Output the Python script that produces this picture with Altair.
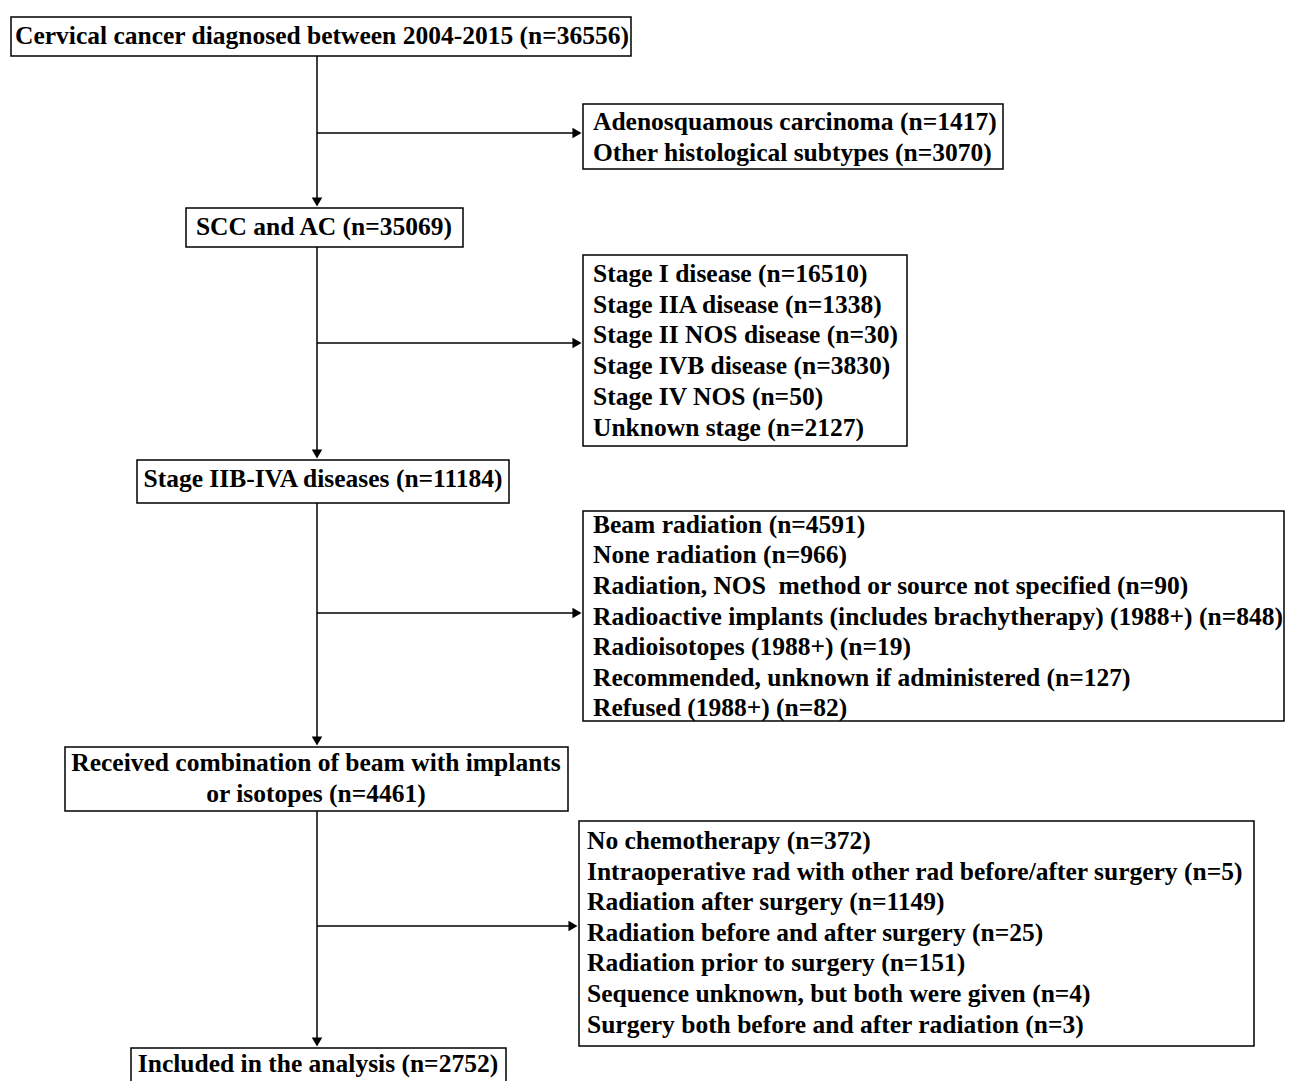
import altair as alt
import pandas as pd

FONT = "Liberation Serif"

# boxes: left, right, top, bottom (pixel positions of the flow diagram)
box_x1 = [11, 583, 186, 583, 137, 583, 65, 579, 131]
box_x2 = [631, 1003, 463, 907, 509, 1284, 568, 1254, 506]
box_y1 = [17, 104, 208, 255, 460, 511, 747, 821, 1048]
box_y2 = [56, 169, 247, 446, 503, 721, 811, 1046, 1095]

# centered labels of the main flow
main_text = [
    "Cervical cancer diagnosed between 2004-2015 (n=36556)",
    "SCC and AC (n=35069)",
    "Stage IIB-IVA diseases (n=11184)",
    "Received combination of beam with implants",
    "or isotopes (n=4461)",
    "Included in the analysis (n=2752)",
]
main_x = [322, 324, 323, 316, 316, 318]
main_y = [36, 227, 479, 763, 794, 1064]

# left-aligned exclusion lists
excl_text = [
    "Adenosquamous carcinoma (n=1417)",
    "Other histological subtypes (n=3070)",
    "Stage I disease (n=16510)",
    "Stage IIA disease (n=1338)",
    "Stage II NOS disease (n=30)",
    "Stage IVB disease (n=3830)",
    "Stage IV NOS (n=50)",
    "Unknown stage (n=2127)",
    "Beam radiation (n=4591)",
    "None radiation (n=966)",
    "Radiation, NOS\u00a0 method or source not specified (n=90)",
    "Radioactive implants (includes brachytherapy) (1988+) (n=848)",
    "Radioisotopes (1988+) (n=19)",
    "Recommended, unknown if administered (n=127)",
    "Refused (1988+) (n=82)",
    "No chemotherapy (n=372)",
    "Intraoperative rad with other rad before/after surgery (n=5)",
    "Radiation after surgery (n=1149)",
    "Radiation before and after surgery (n=25)",
    "Radiation prior to surgery (n=151)",
    "Sequence unknown, but both were given (n=4)",
    "Surgery both before and after radiation (n=3)",
]
excl_x = [593] * 2 + [593] * 6 + [593] * 7 + [587] * 7
excl_y = [122, 153, 274, 305, 335, 366, 397, 428,
          525, 555, 586, 617, 647, 678, 708,
          841, 872, 902, 933, 963, 994, 1025]

# connector lines
line_x1 = [317, 317, 317, 317, 317, 317, 317, 317]
line_x2 = [317, 317, 317, 317, 576, 576, 576, 572]
line_y1 = [56, 247, 503, 811, 133, 343, 613, 926]
line_y2 = [201, 453, 740, 1041, 133, 343, 613, 926]

# arrow heads
arrow_x = [317, 317, 317, 317, 577, 577, 577, 573]
arrow_y = [202, 454, 741, 1042, 133, 343, 613, 926]
arrow_shape = ["triangle-down"] * 4 + ["triangle-right"] * 4

xs = alt.Scale(domain=[8, 1285], nice=False, zero=False)
ys = alt.Scale(domain=[8, 1081], nice=False, zero=False, reverse=True)

boxes = pd.DataFrame(dict(x=box_x1, x2=box_x2, y=box_y1, y2=box_y2))
mains = pd.DataFrame(dict(x=main_x, y=main_y, t=main_text))
excls = pd.DataFrame(dict(x=excl_x, y=excl_y, t=excl_text))
lines = pd.DataFrame(dict(x=line_x1, x2=line_x2, y=line_y1, y2=line_y2))
arrows = pd.DataFrame(dict(x=arrow_x, y=arrow_y, s=arrow_shape))

rects = alt.Chart(boxes).mark_rect(fill="white", stroke="black", strokeWidth=1.5, clip=True).encode(
    x=alt.X("x:Q", scale=xs, axis=None), x2="x2", y=alt.Y("y:Q", scale=ys, axis=None), y2="y2")
rules = alt.Chart(lines).mark_rule(color="black", strokeWidth=1.5).encode(
    x=alt.X("x:Q", scale=xs, axis=None), x2="x2", y=alt.Y("y:Q", scale=ys, axis=None), y2="y2")
heads = alt.Chart(arrows).mark_point(filled=True, color="black", size=110, opacity=1).encode(
    x=alt.X("x:Q", scale=xs, axis=None), y=alt.Y("y:Q", scale=ys, axis=None),
    shape=alt.Shape("s:N", scale=None))
mtext = alt.Chart(mains).mark_text(font=FONT, fontWeight="bold", fontSize=25.5, align="center",
                                   baseline="middle", color="black").encode(
    x=alt.X("x:Q", scale=xs, axis=None), y=alt.Y("y:Q", scale=ys, axis=None), text="t:N")
etext = alt.Chart(excls).mark_text(font=FONT, fontWeight="bold", fontSize=25.5, align="left",
                                   baseline="middle", color="black").encode(
    x=alt.X("x:Q", scale=xs, axis=None), y=alt.Y("y:Q", scale=ys, axis=None), text="t:N")

chart = (
    alt.layer(rules, heads, rects, mtext, etext)
    .properties(width=1277, height=1073, padding=0, autosize="none", background="white")
    .configure_view(stroke=None)
)
chart.save("out.html", embed_options={"renderer": "svg", "actions": False})
